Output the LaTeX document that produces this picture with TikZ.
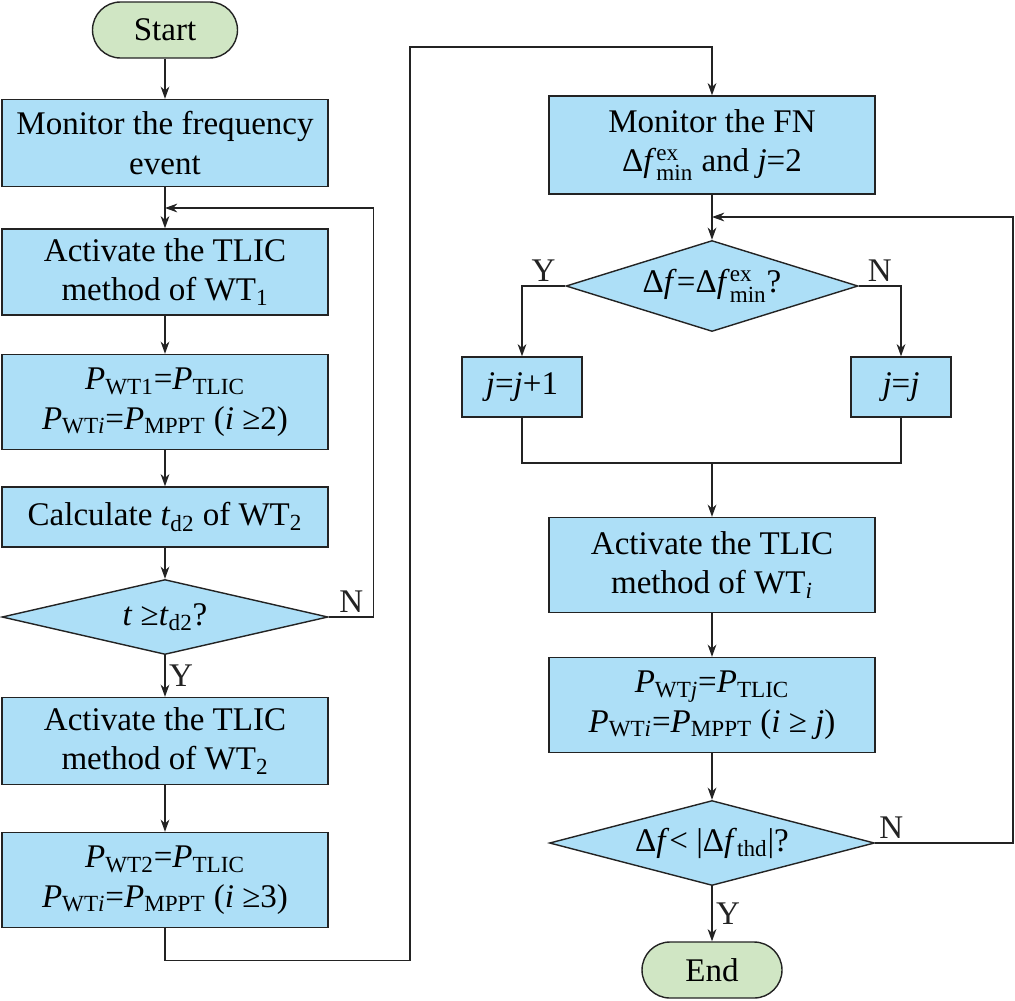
\documentclass[tikz,border=0pt]{standalone}
\usepackage{amsmath}
\usepackage{fontspec}
\setmainfont{Liberation Serif}
\usepackage{tikz}
\usetikzlibrary{arrows.meta, positioning, shapes.geometric}
\definecolor{boxblue}{RGB}{173,223,247}
\definecolor{termgreen}{RGB}{208,230,196}
\definecolor{edgegray}{RGB}{35,35,35}

\begin{document}
\begin{tikzpicture}[
      every node/.style={font=\fontsize{18.8}{22.5}\selectfont},
      box/.style={draw=edgegray, fill=boxblue, line width=0.8pt,
                  minimum width=6.52cm, align=center, inner sep=2pt},
      term/.style={draw=edgegray, fill=termgreen, line width=0.8pt,
                   rounded corners=0.56cm, minimum width=2.9cm, minimum height=1.12cm},
      decision/.style={draw=edgegray, fill=boxblue, line width=0.8pt,
                       diamond, aspect=3.5, inner sep=0pt},
      arrow/.style={-{Stealth[length=7pt, width=5pt]}, line width=0.7pt, edgegray},
      link/.style={line width=0.7pt, edgegray},
      lab/.style={inner sep=2pt}
    ]
    \useasboundingbox (0,0) rectangle (20.3,-20);
    % left column
    \node[term] (start) at (3.3,-0.6) {Start};
    \node[box, minimum height=1.74cm] (monitor) at (3.3,-2.86) {Monitor the frequency\\event};
    \node[box, minimum height=1.72cm] (act1) at (3.3,-5.44) {Activate the TLIC\\method of WT$_\text{1}$};
    \node[box, minimum height=1.9cm] (set1) at (3.3,-8.04)
          {\textit{P}$_\text{WT1}$=\textit{P}$_\text{TLIC}$\\\textit{P}$_\text{WT\textit{i}}$=\textit{P}$_\text{MPPT}$ (\textit{i} ≥2)};
    \node[box, minimum height=1.2cm] (calc) at (3.3,-10.34) {Calculate \textit{t}$_\text{d2}$ of WT$_\text{2}$};
    \node[decision, minimum width=6.52cm, minimum height=1.5cm] (chk1) at (3.3,-12.34) {\textit{t} ≥\textit{t}$_\text{d2}$?};
    \node[box, minimum height=1.74cm] (act2) at (3.3,-14.82) {Activate the TLIC\\method of WT$_\text{2}$};
    \node[box, minimum height=1.9cm] (set2) at (3.3,-17.6)
          {\textit{P}$_\text{WT2}$=\textit{P}$_\text{TLIC}$\\\textit{P}$_\text{WT\textit{i}}$=\textit{P}$_\text{MPPT}$ (\textit{i} ≥3)};
    % right column
    \node[box, minimum height=1.96cm] (fn) at (14.24,-2.9) {Monitor the FN\\Δ\textit{f}$^\text{ex}_\text{min}$ and \textit{j}=2};
    \node[decision, minimum width=5.84cm, minimum height=1.82cm] (chk2) at (14.24,-5.72) {Δ\textit{f}=Δ\textit{f}$^\text{ex}_\text{min}$?};
    \node[box, minimum width=2.4cm, minimum height=1.2cm] (inc) at (10.44,-7.74) {\textit{j}=\textit{j}+1};
    \node[box, minimum width=2.0cm, minimum height=1.2cm] (keep) at (18.02,-7.74) {\textit{j}=\textit{j}};
    \node[box, minimum height=1.9cm] (actj) at (14.24,-11.3) {Activate the TLIC\\method of WT$_\text{\textit{i}}$};
    \node[box, minimum height=1.9cm] (setj) at (14.24,-14.1)
          {\textit{P}$_\text{WT\textit{j}}$=\textit{P}$_\text{TLIC}$\\\textit{P}$_\text{WT\textit{i}}$=\textit{P}$_\text{MPPT}$ (\textit{i} ≥ \textit{j})};
    \node[decision, minimum width=6.5cm, minimum height=1.7cm] (chk3) at (14.24,-16.86) {Δ\textit{f}< |Δ\textit{f}$_\text{thd}$|?};
    \node[term, minimum width=2.8cm] (stop) at (14.24,-19.4) {End};
    \coordinate (m1) at (3.3,-4.16);
    \coordinate (m2) at (14.24,-4.34);
    \coordinate (jn) at (14.24,-9.26);
    \coordinate (rt) at (20.26,-4.34);
    % connectors
    \draw[arrow] (start) -- (monitor);
    \draw[arrow] (monitor) -- (act1);
    \draw[arrow] (act1) -- (set1);
    \draw[arrow] (set1) -- (calc);
    \draw[arrow] (calc) -- (chk1);
    \draw[arrow] (chk1) -- node[lab, right]{Y} (act2);
    \draw[arrow] (act2) -- (set2);
    \draw[arrow] (chk1.east) -- node[lab, above]{N} ++(0.9,0) |- (m1);
    \draw[arrow] (set2.south) -- ++(0,-0.64) -| (8.2,-0.94) -| (fn.north);
    \draw[arrow] (fn) -- (chk2);
    \draw[arrow] (chk2.west) -| node[lab, above, pos=0.25]{Y} (inc.north);
    \draw[arrow] (chk2.east) -| node[lab, above, pos=0.25]{N} (keep.north);
    \draw[link] (inc.south) |- (jn) -| (keep.south);
    \draw[arrow] (jn) -- (actj);
    \draw[arrow] (actj) -- (setj);
    \draw[arrow] (setj) -- (chk3);
    \draw[arrow] (chk3) -- node[lab, right]{Y} (stop);
    \draw[arrow] (chk3.east) -| node[lab, above right, pos=0]{N} (rt) -- (m2);
  \end{tikzpicture}
\end{document}
